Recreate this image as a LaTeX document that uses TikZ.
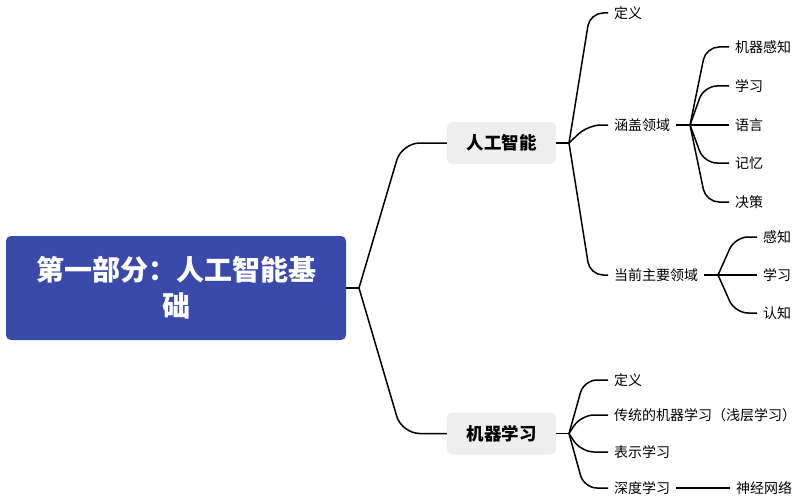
\documentclass[tikz,border=0pt]{standalone}
\usepackage{fontspec}
\setmainfont{Noto Sans CJK SC}
\definecolor{rootblue}{HTML}{3A4AAB}
\definecolor{boxgray}{HTML}{EEEEEE}
\begin{document}
\begin{tikzpicture}[x=1pt,y=-1pt,
  rootbox/.style={fill=rootblue,rounded corners=5pt,minimum width=340pt,minimum height=104pt,
    text=white,font=\fontsize{28}{36}\selectfont\bfseries,align=center,inner sep=0pt},
  mainbox/.style={fill=boxgray,rounded corners=5pt,minimum width=109pt,minimum height=42pt,
    inner sep=0pt,font=\fontsize{17.5}{20}\selectfont\bfseries},
  leaf/.style={anchor=west,inner xsep=6pt,inner ysep=0pt,font=\fontsize{14}{16}\selectfont},
  edge/.style={line width=1.5pt,rounded corners=18pt},
  sedge/.style={line width=1.5pt,rounded corners=13pt}]
\useasboundingbox (0,0) rectangle (799,500);
% root
\node[rootbox] (root) at (176,288) {第一部分：人工智能基\\础};
\coordinate (j0) at (359,288);
\draw[line width=1.5pt] (root.east) -- (j0);
% main nodes
\node[mainbox] (ai) at (501.5,143) {人工智能};
\node[mainbox] (ml) at (501.5,433.5) {机器学习};
\draw[edge] (j0) -- ([xshift=-45pt]ai.west) -- (ai.west);
\draw[edge] (j0) -- ([xshift=-45pt]ml.west) -- (ml.west);
% AI branch
\coordinate (j1) at (569,143);
\draw[line width=1.5pt] (ai.east) -- (j1);
\node[leaf] (def1) at (608,13) {定义};
\node[leaf] (cover) at (608,125) {涵盖领域};
\node[leaf] (curr) at (608,275) {当前主要领域};
\draw[sedge] (j1) -- ([xshift=-18pt]def1.west) -- (def1.west);
\draw[sedge] (j1) -- ([xshift=-20pt]cover.west) -- (cover.west);
\draw[sedge] (j1) -- ([xshift=-18pt]curr.west) -- (curr.west);
% cover children
\coordinate (j2) at (690,125);
\draw[line width=1.5pt] (cover.east) -- (j2);
\node[leaf] (c1) at (729,47) {机器感知};
\node[leaf] (c2) at (729,86) {学习};
\node[leaf] (c3) at (729,125) {语言};
\node[leaf] (c4) at (729,163) {记忆};
\node[leaf] (c5) at (729,202) {决策};
\draw[sedge] (j2) -- ([xshift=-23pt]c1.west) -- (c1.west);
\draw[sedge] (j2) -- ([xshift=-25pt]c2.west) -- (c2.west);
\draw[line width=1.5pt] (j2) -- (c3.west);
\draw[sedge] (j2) -- ([xshift=-25pt]c4.west) -- (c4.west);
\draw[sedge] (j2) -- ([xshift=-23pt]c5.west) -- (c5.west);
% current children
\coordinate (j3) at (718,275);
\draw[line width=1.5pt] (curr.east) -- (j3);
\node[leaf] (d1) at (757,237) {感知};
\node[leaf] (d2) at (757,275) {学习};
\node[leaf] (d3) at (757,313) {认知};
\draw[sedge] (j3) -- ([xshift=-22pt]d1.west) -- (d1.west);
\draw[line width=1.5pt] (j3) -- (d2.west);
\draw[sedge] (j3) -- ([xshift=-22pt]d3.west) -- (d3.west);
% ML branch
\coordinate (j4) at (569,433.5);
\draw[line width=1.5pt] (ml.east) -- (j4);
\node[leaf] (m1) at (608,380) {定义};
\node[leaf] (m2) at (608,415) {传统的机器学习（浅层学习）};
\node[leaf] (m3) at (608,452) {表示学习};
\node[leaf] (m4) at (608,488) {深度学习};
\draw[sedge] (j4) -- ([xshift=-24pt]m1.west) -- (m1.west);
\draw[sedge] (j4) -- ([xshift=-27pt]m2.west) -- (m2.west);
\draw[sedge] (j4) -- ([xshift=-27pt]m3.west) -- (m3.west);
\draw[sedge] (j4) -- ([xshift=-24pt]m4.west) -- (m4.west);
\node[leaf] (nn) at (730,488) {神经网络};
\draw[line width=1.5pt] (m4.east) -- (nn.west);
\end{tikzpicture}
\end{document}
